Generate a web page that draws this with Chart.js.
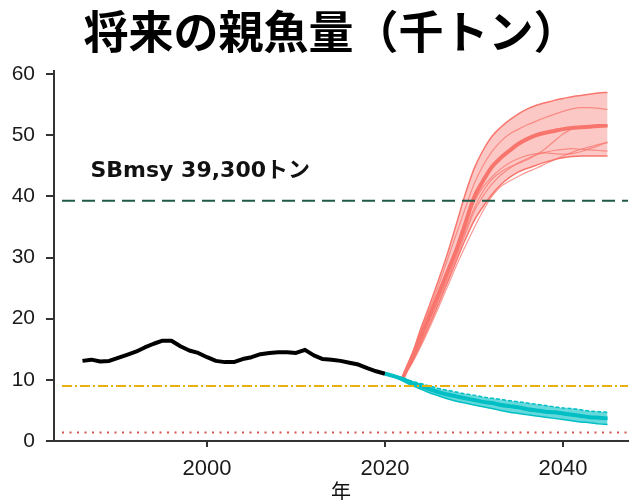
<!DOCTYPE html>
<html>
<head>
<meta charset="utf-8">
<script src="https://cdn.jsdelivr.net/npm/chart.js@4/dist/chart.umd.min.js"></script>
<style>
  body { margin: 0; background: #fff; }
</style>
</head>
<body>
<canvas id="chart" width="630" height="500"></canvas>
<script>
// observed spawning stock biomass (thousand t)
var histYears = [1986,1987,1988,1989,1990,1991,1992,1993,1994,1995,1996,1997,1998,1999,2000,2001,2002,2003,2004,2005,2006,2007,2008,2009,2010,2011,2012,2013,2014,2015,2016,2017,2018,2019,2020];
var histSB = [13.1,13.3,13.0,13.1,13.6,14.1,14.6,15.3,15.9,16.4,16.4,15.5,14.8,14.4,13.7,13.1,12.9,12.9,13.4,13.7,14.2,14.4,14.5,14.5,14.4,14.9,14.0,13.4,13.3,13.1,12.8,12.5,11.9,11.4,11.0];

// projection under current fishing (cyan)
var curYears = [2020,2021,2022,2023,2024,2025,2026,2027,2028,2029,2030,2031,2032,2033,2034,2035,2036,2037,2038,2039,2040,2041,2042,2043,2044,2045];
var curMid = [11.0,10.6,10.1,9.5,9.0,8.5,8.0,7.6,7.3,7.0,6.7,6.4,6.2,5.9,5.7,5.5,5.2,5.0,4.8,4.7,4.5,4.3,4.1,3.9,3.8,3.7];
var curHigh = [11.0,10.7,10.3,9.8,9.4,9.0,8.6,8.3,8.0,7.7,7.5,7.2,7.0,6.8,6.6,6.4,6.2,6.0,5.8,5.6,5.4,5.3,5.1,4.9,4.8,4.7];
var curLow = [11.0,10.5,9.8,9.1,8.5,7.9,7.4,6.9,6.5,6.2,5.9,5.6,5.3,5.0,4.7,4.5,4.3,4.1,3.9,3.7,3.5,3.3,3.1,3.0,2.8,2.7];

// projection under the recommended rule (red)
var ruleYears = [2022,2023,2024,2025,2026,2027,2028,2029,2030,2031,2032,2033,2034,2035,2036,2037,2038,2039,2040,2041,2042,2043,2044,2045];
var ruleMid = [10.3,13.6,17.0,20.5,24.0,27.6,31.2,35.5,39.8,42.5,44.8,46.3,47.5,48.6,49.4,50.0,50.4,50.7,51.0,51.2,51.3,51.4,51.5,51.6];
var ruleHigh = [10.3,14.0,18.3,22.2,26.3,30.6,35.4,40.3,44.5,47.5,49.8,51.3,52.5,53.5,54.3,54.9,55.3,55.7,56.0,56.3,56.5,56.7,56.9,57.0];
var ruleLow = [10.3,12.8,15.8,19.0,22.4,25.9,29.4,32.9,36.0,38.3,40.3,41.9,43.1,44.0,44.6,45.1,45.6,46.0,46.3,46.5,46.6,46.6,46.6,46.6];
var ruleRuns = [
  [10.3,12.6,15.4,18.5,21.8,25.2,28.6,31.8,34.8,37.6,40.0,41.6,42.5,43.3,44.0,44.6,45.3,46.0,46.6,47.2,47.7,48.1,48.5,48.8],
  [10.3,12.9,16.2,19.6,23.0,26.5,30.0,33.8,37.5,40.0,42.0,43.5,44.6,45.5,46.2,46.8,47.2,47.5,47.7,47.8,47.7,47.6,47.5,47.4],
  [10.3,13.1,16.6,20.0,23.5,27.0,30.6,34.3,38.0,40.8,42.8,44.0,44.8,45.4,46.0,46.8,47.8,49.0,50.2,51.0,51.3,51.4,51.5,51.6],
  [10.3,13.8,18.0,21.5,25.4,29.6,33.8,38.0,42.0,45.0,47.3,49.0,50.2,51.0,51.7,52.3,52.9,53.4,53.9,54.3,54.5,54.5,54.4,54.2],
  [10.3,13.2,16.9,20.3,23.9,27.6,31.2,35.2,39.0,41.5,43.2,44.5,45.5,46.2,46.7,47.0,47.1,47.0,46.9,47.0,47.3,47.8,48.3,48.9]
];

// reference points
var sbTarget = 39.3;
var sbLimit = 9.0;
var sbBan = 1.4;
var refStart = 1983.7;
var refEnd = 2047.3;

var xTicks = [2000, 2020, 2040];
var yTicks = [0, 10, 20, 30, 40, 50, 60];

function pts(xs, ys) {
  return xs.map(function(x, i) { return {x: x, y: ys[i]}; });
}
function hline(v) {
  return [{x: refStart, y: v}, {x: refEnd, y: v}];
}

var RED = '#F8766D';
var CYAN = '#00BFC4';

var datasets = [];
datasets.push({ data: hline(sbTarget), borderColor: '#1d5a47', borderWidth: 2, borderDash: [13, 7], pointRadius: 0 });
datasets.push({ data: hline(sbLimit), borderColor: '#e8b00c', borderWidth: 2, borderDash: [10, 3, 2, 3], pointRadius: 0 });
datasets.push({ data: hline(sbBan), borderColor: '#d9534f', borderWidth: 2, borderDash: [2, 5.5], pointRadius: 0 });

// cyan band
datasets.push({ data: pts(curYears, curHigh), borderColor: CYAN, borderWidth: 1.5, borderDash: [4, 2],
  backgroundColor: 'rgba(0,191,196,0.6)', fill: '+1', pointRadius: 0, cubicInterpolationMode: 'monotone' });
datasets.push({ data: pts(curYears, curLow), borderColor: CYAN, borderWidth: 1.5, pointRadius: 0, cubicInterpolationMode: 'monotone' });
datasets.push({ data: pts(curYears, curMid), borderColor: CYAN, borderWidth: 4, pointRadius: 0, cubicInterpolationMode: 'monotone' });

// red band
datasets.push({ data: pts(ruleYears, ruleHigh), borderColor: RED, borderWidth: 1.5,
  backgroundColor: 'rgba(248,118,109,0.4)', fill: '+1', pointRadius: 0, cubicInterpolationMode: 'monotone' });
datasets.push({ data: pts(ruleYears, ruleLow), borderColor: RED, borderWidth: 1.5, pointRadius: 0, cubicInterpolationMode: 'monotone' });
for (var r = 0; r < ruleRuns.length; r++) {
  datasets.push({ data: pts(ruleYears, ruleRuns[r]), borderColor: 'rgba(248,118,109,0.75)', borderWidth: 1.2, pointRadius: 0, cubicInterpolationMode: 'monotone' });
}
datasets.push({ data: pts(ruleYears, ruleMid), borderColor: RED, borderWidth: 4, pointRadius: 0, cubicInterpolationMode: 'monotone' });

// observed
datasets.push({ data: pts(histYears, histSB), borderColor: '#000', borderWidth: 4, pointRadius: 0, borderJoinStyle: 'round' });

var textPlugin = {
  id: 'texts',
  afterDraw: function(chart) {
    var ctx = chart.ctx;
    ctx.save();
    // title
    ctx.font = 'bold 45px "Noto Sans CJK JP"';
    ctx.fillStyle = '#000';
    ctx.textAlign = 'center';
    ctx.textBaseline = 'middle';
    ctx.fillText('将来の親魚量（千トン）', 331, 32);
    // SBmsy label
    var x = chart.scales.x.getPixelForValue(1986.9);
    var y = chart.scales.y.getPixelForValue(43.1);
    ctx.font = 'bold 22px "DejaVu Sans", "Noto Sans CJK JP"';
    ctx.fillStyle = '#111';
    ctx.textAlign = 'left';
    ctx.textBaseline = 'alphabetic';
    ctx.fillText('SBmsy 39,300トン', x, y);
    ctx.restore();
  }
};

var ctx = document.getElementById('chart').getContext('2d');
var myChart = new Chart(ctx, {
  type: 'line',
  data: { datasets: datasets },
  options: {
    responsive: false,
    animation: false,
    events: [],
    layout: { padding: { left: 0, right: 2, top: 71, bottom: 0 } },
    plugins: {
      legend: { display: false },
      tooltip: { enabled: false }
    },
    scales: {
      x: {
        type: 'linear',
        min: 1982.8,
        max: 2047.3,
        afterBuildTicks: function(scale) {
          scale.ticks = xTicks.map(function(v) { return {value: v}; });
        },
        afterFit: function(scale) { scale.height = 59; },
        grid: { drawOnChartArea: false, drawTicks: true, tickLength: 6, color: '#333', lineWidth: 2 },
        border: { color: '#333', width: 2 },
        ticks: { color: '#1a1a1a', padding: 9, font: { family: '"Liberation Sans"', size: 22 },
          callback: function(v) { return String(v); } },
        title: { display: true, text: '年', color: '#111', padding: { top: 0, bottom: -3 },
          font: { family: '"Noto Sans CJK JP"', size: 20 } }
      },
      y: {
        type: 'linear',
        min: 0,
        max: 60.5,
        afterBuildTicks: function(scale) {
          scale.ticks = yTicks.map(function(v) { return {value: v}; });
        },
        afterFit: function(scale) { scale.width = 54; },
        grid: { drawOnChartArea: false, drawTicks: true, tickLength: 8, color: '#333', lineWidth: 2 },
        border: { color: '#333', width: 2 },
        ticks: { color: '#1a1a1a', padding: 11, font: { family: '"Liberation Sans"', size: 21 } }
      }
    }
  },
  plugins: [textPlugin]
});
</script>
</body>
</html>
